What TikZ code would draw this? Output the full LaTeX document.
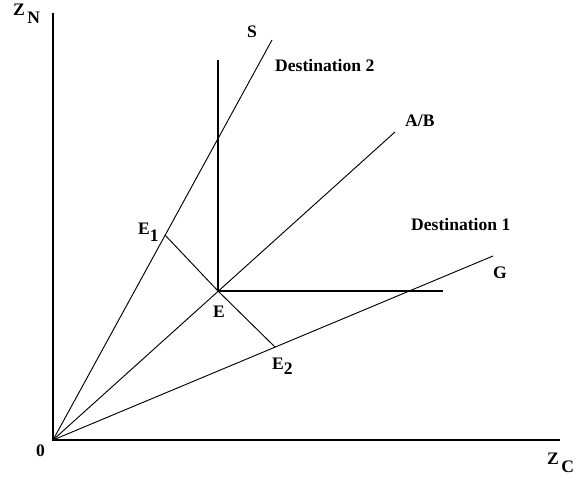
\documentclass[tikz,border=0pt]{standalone}
\usepackage{fontspec}
\setmainfont{Liberation Serif}
\usetikzlibrary{positioning,calc}
\newcommand{\lowsub}[3]{#1\kern#3\raisebox{-0.9ex}{#2}}

\begin{document}
\begin{tikzpicture}[x=0.03cm,y=-0.03cm,
  lbl/.style={font=\fontsize{15}{17}\selectfont\bfseries,inner sep=0pt,anchor=base west},
  axis/.style={line width=1.5pt},
  ray/.style={line width=0.8pt},
  guide/.style={line width=1.1pt}]
\useasboundingbox (0,0) rectangle (574,481);
% --- points ---
\coordinate (O) at (53,440);
\coordinate (ytop) at (53,13);
\coordinate (xend) at (560,440);
\coordinate (Send) at (272,40);
\coordinate (ABend) at (395,132);
\coordinate (Gend) at (493,256);
\coordinate (E) at (218,291);
\coordinate (E1) at (165,235);
\coordinate (E2) at (275,347);
\coordinate (vtop) at (218,60);
\coordinate (hend) at (443,291);
% --- axes ---
\draw[axis] (ytop) -- (O) -- (xend);
% --- rays ---
\draw[ray] (O) -- (Send);
\draw[ray] (O) -- (ABend);
\draw[ray] (O) -- (Gend);
\draw[ray] (E1) -- (E) -- (E2);
% --- guides through E ---
\draw[guide] (vtop) -- (E) -- (hend);
% --- labels ---
\node[lbl] (zn) at (13,16) {\lowsub{Z}{N}{2pt}};
\node[lbl] (zc) at (547,465) {\lowsub{Z}{C}{2pt}};
\node[lbl] (zero) at (36,457) {0};
\node[lbl] (slbl) at (247,38) {S};
\node[lbl] (dest2) at (275,72) {Destination 2};
\node[lbl] (ablbl) at (405,127) {A/B};
\node[lbl] (dest1) at (411,231) {Destination 1};
\node[lbl] (glbl) at (493,279) {G};
\node[lbl] (e1lbl) at (138,235) {E\raisebox{-0.8ex}{1}};
\node[lbl] (elbl) at (213,318) {E};
\node[lbl] (e2lbl) at (272,370) {E\raisebox{-0.6ex}{2}};
\end{tikzpicture}
\end{document}
